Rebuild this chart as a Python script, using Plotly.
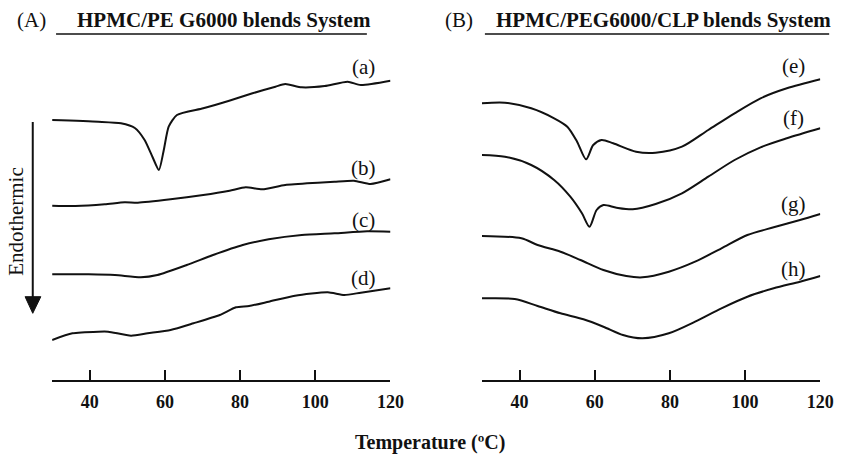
"""DSC thermograms of HPMC/PEG6000 blends (A) and HPMC/PEG6000/CLP blends (B)."""

import plotly.graph_objects as go

W, H = 853, 458
FONT = "Liberation Serif, Times New Roman, serif"

# ---- panel A: HPMC/PEG6000 blends (temperature in C, heat flow in a.u.) ----
temp_a = [30, 42.3, 48.3, 52.0, 54.6, 56.7, 58.4, 59.7, 61.0, 63.2, 70.2, 77.1,
          83.3, 89.4, 92.0, 96.4, 102.5, 108.6, 112.1, 120]
flow_a = [26.0, 25.83, 25.67, 25.2, 24.0, 22.3, 21.0, 23.0, 25.33, 26.5, 27.17, 27.93,
          28.67, 29.33, 29.6, 29.27, 29.4, 29.83, 29.5, 29.93]

temp_b = [30, 36.2, 44.0, 49.3, 52.8, 61.5, 70.2, 77.2, 81.5, 85.9, 92.0, 100.7,
          105.1, 110.3, 114.7, 120]
flow_b = [17.43, 17.4, 17.57, 17.77, 17.73, 18.07, 18.5, 18.93, 19.27, 19.07, 19.5, 19.73,
          19.83, 19.93, 19.6, 20.07]

temp_c = [30, 39.7, 46.7, 53.6, 58.0, 65.8, 72.8, 80.7, 87.6, 96.4, 105.1, 113.8, 120]
flow_c = [10.57, 10.57, 10.5, 10.27, 10.5, 11.5, 12.5, 13.5, 14.07, 14.5, 14.67, 14.87, 14.83]

temp_d = [30, 35.4, 42.3, 44.9, 51.0, 55.4, 61.5, 67.6, 74.6, 78.9, 82.4, 87.6, 94.6,
          103.3, 107.7, 112.1, 120]
flow_d = [4.0, 4.67, 4.83, 4.83, 4.43, 4.67, 5.0, 5.67, 6.5, 7.27, 7.4, 7.83, 8.43,
          8.77, 8.5, 8.73, 9.17]

# ---- panel B: HPMC/PEG6000/CLP blends ----
temp_e = [30, 36.1, 43.1, 49.2, 52.7, 55.3, 57.7, 59.6, 61.8, 64.9, 71.0, 76.2, 83.2,
          90.2, 97.2, 104.1, 111.1, 120]
flow_e = [27.67, 27.73, 27.17, 26.17, 25.33, 23.83, 22.07, 23.5, 24.0, 23.67, 22.83, 22.73,
          23.33, 25.0, 26.67, 28.17, 29.17, 30.07]

temp_f = [30, 36.1, 43.1, 49.2, 53.5, 56.6, 58.6, 60.5, 62.3, 65.8, 70.1, 76.2, 83.2,
          90.2, 97.2, 104.1, 111.1, 120]
flow_f = [22.5, 22.33, 21.5, 20.0, 18.33, 16.67, 15.33, 17.0, 17.5, 17.23, 17.07, 17.6,
          18.67, 20.33, 22.0, 23.27, 24.17, 25.17]

temp_g = [30, 40.5, 44.8, 50.9, 56.2, 62.3, 68.4, 72.7, 79.7, 86.7, 93.7, 100.6, 107.6,
          114.6, 120]
flow_g = [14.4, 14.17, 13.5, 12.83, 12.0, 11.0, 10.4, 10.27, 10.83, 11.83, 13.17, 14.5,
          15.27, 16.0, 16.6]

temp_h = [30, 38.7, 44.8, 50.9, 57.0, 62.3, 67.5, 72.7, 79.7, 86.7, 93.7, 100.6, 107.6,
          114.6, 120]
flow_h = [8.17, 8.1, 7.4, 6.67, 6.07, 5.33, 4.5, 4.17, 4.67, 5.83, 7.17, 8.33, 9.17,
          9.83, 10.4]

x_ticks = [40, 60, 80, 100, 120]

labels_a = ["(a)", "(b)", "(c)", "(d)"]
label_y_a = [31.3, 21.2, 16.0, 10.2]
labels_b = ["(e)", "(f)", "(g)", "(h)"]
label_y_b = [31.4, 26.2, 17.6, 11.1]
label_x = 112.9


def px(x, y):
    """Pixel position -> paper coordinates."""
    return x / W, (H - y) / H


fig = go.Figure()

for t, f in [(temp_a, flow_a), (temp_b, flow_b), (temp_c, flow_c), (temp_d, flow_d)]:
    fig.add_trace(
        go.Scatter(x=t, y=f, mode="lines", xaxis="x", yaxis="y",
                   line={"color": "#111111", "width": 2, "shape": "spline", "smoothing": 0.6},
                   showlegend=False)
    )

for t, f in [(temp_e, flow_e), (temp_f, flow_f), (temp_g, flow_g), (temp_h, flow_h)]:
    fig.add_trace(
        go.Scatter(x=t, y=f, mode="lines", xaxis="x2", yaxis="y2",
                   line={"color": "#111111", "width": 2, "shape": "spline", "smoothing": 0.8},
                   showlegend=False)
    )

axis_style = {
    "range": [30, 120],
    "tickvals": x_ticks,
    "showline": True,
    "linecolor": "#111111",
    "linewidth": 2,
    "ticks": "inside",
    "ticklen": 10,
    "tickwidth": 2,
    "tickcolor": "#111111",
    "showgrid": False,
    "zeroline": False,
    "tickfont": {"family": FONT, "size": 18, "color": "#111111", "weight": "bold"},
    "ticklabelstandoff": 4,
}
y_style = {"range": [0, 38], "domain": [78 / H, 1], "visible": False, "fixedrange": True}

fig.update_layout(
    width=W,
    height=H,
    margin={"l": 0, "r": 0, "t": 0, "b": 0},
    paper_bgcolor="white",
    plot_bgcolor="white",
    font={"family": FONT, "color": "#111111"},
    xaxis={**axis_style, "domain": [53 / W, 397 / W], "anchor": "y"},
    xaxis2={**axis_style, "domain": [490 / W, 834 / W], "anchor": "y2"},
    yaxis={**y_style, "anchor": "x"},
    yaxis2={**y_style, "anchor": "x2"},
)

annotations = []
for text, y in zip(labels_a, label_y_a):
    annotations.append(dict(x=label_x, y=y, xref="x", yref="y", text=text, showarrow=False,
                            xanchor="center", yanchor="middle", font={"size": 21, "family": FONT}))
for text, y in zip(labels_b, label_y_b):
    annotations.append(dict(x=label_x, y=y, xref="x2", yref="y2", text=text, showarrow=False,
                            xanchor="center", yanchor="middle", font={"size": 21, "family": FONT}))

# panel titles
for tag, tx, title, title_x in [("(A)", 32, "HPMC/PE G6000 blends System", 76),
                                ("(B)", 467, "HPMC/PEG6000/CLP blends System", 502)]:
    x0, y0 = px(tx, 20)
    annotations.append(dict(x=x0, y=y0, xref="paper", yref="paper", text=tag, showarrow=False,
                            xanchor="center", yanchor="middle", font={"size": 21, "family": FONT}))
    x1, y1 = px(title_x, 20)
    annotations.append(dict(x=x1, y=y1, xref="paper", yref="paper", text=f"<b>{title}</b>",
                            showarrow=False, xanchor="left", yanchor="middle",
                            font={"size": 21, "family": FONT}))

xe, ye = px(16, 222)
annotations.append(dict(x=xe, y=ye, xref="paper", yref="paper", text="Endothermic", textangle=-90,
                        xanchor="center", yanchor="middle", showarrow=False,
                        font={"size": 21, "family": FONT}))
xl, yl = px(437, 442)
annotations.append(dict(x=xl, y=yl, xref="paper", yref="paper", text="<b>Temperature (ºC)</b>",
                        xanchor="center", yanchor="middle", showarrow=False,
                        font={"size": 20, "family": FONT}))
fig.update_layout(annotations=annotations)

shapes = []
for ux0, ux1 in [(57, 373), (493, 843)]:
    a0, b0 = px(ux0, 34)
    a1, _ = px(ux1, 34)
    shapes.append(dict(type="line", xref="paper", yref="paper", x0=a0, x1=a1, y0=b0, y1=b0,
                       line={"color": "#111111", "width": 1.5}))

# endothermic arrow
ax0, ay0 = px(33.3, 122)
ax1, ay1 = px(33.3, 298)
shapes.append(dict(type="line", xref="paper", yref="paper", x0=ax0, x1=ax1, y0=ay0, y1=ay1,
                   line={"color": "#111111", "width": 2}))
p1, p2, p3 = px(25.5, 296.7), px(41.5, 296.7), px(33.3, 313.3)
shapes.append(dict(type="path", xref="paper", yref="paper",
                   path=f"M{p1[0]},{p1[1]} L{p2[0]},{p2[1]} L{p3[0]},{p3[1]} Z",
                   fillcolor="#111111", line={"color": "#111111", "width": 1}))
fig.update_layout(shapes=shapes)

fig.write_html(
    "out.html",
    config={"displayModeBar": False},
    post_script="document.body.style.margin='0';document.body.style.overflow='hidden';",
)
